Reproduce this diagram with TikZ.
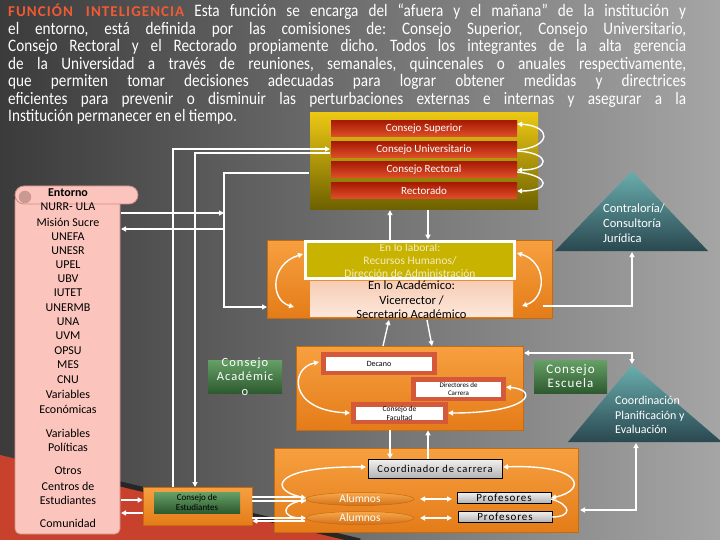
\documentclass[tikz,border=0pt]{standalone}
\usepackage{fontspec}
\setmainfont{Carlito}
\newfontfamily\spaced[LetterSpace=8]{Carlito}
\newfontfamily\parafont[FakeStretch=0.87]{Carlito}
\newfontfamily\titlefont[LetterSpace=7]{Carlito}
\usetikzlibrary{shapes.geometric,arrows.meta}
\definecolor{bgL}{HTML}{3B3B3B}
\definecolor{bgR}{HTML}{A5A5A5}
\definecolor{barTop}{HTML}{A81C04}
\definecolor{barBot}{HTML}{E0502A}
\definecolor{yTop}{HTML}{ECC814}
\definecolor{yBot}{HTML}{6C6000}
\definecolor{orTop}{HTML}{F7A040}
\definecolor{orBot}{HTML}{E47C18}
\definecolor{orDraw}{HTML}{C46A10}
\definecolor{olive}{HTML}{C8B300}
\definecolor{oliveTxt}{HTML}{F4ECC0}
\definecolor{peachTop}{HTML}{F6CDB6}
\definecolor{peachBot}{HTML}{FDE7DA}
\definecolor{decBorder}{HTML}{D4583A}
\definecolor{greenTop}{HTML}{66A066}
\definecolor{greenBot}{HTML}{2E5A30}
\definecolor{tealTop}{HTML}{6AAEAE}
\definecolor{tealBot}{HTML}{2A4850}
\definecolor{grayTop}{HTML}{F2F2F2}
\definecolor{grayBot}{HTML}{B4B4B4}
\definecolor{listFill}{HTML}{FBC5BD}
\definecolor{listDraw}{HTML}{D08C86}
\definecolor{curl}{HTML}{C99A93}
\definecolor{titleRed}{HTML}{F05A35}
\definecolor{decoRed}{HTML}{C8412C}
\definecolor{ellTop}{HTML}{F7A84A}
\definecolor{ellBot}{HTML}{D2701A}
\begin{document}
\begin{tikzpicture}[x=1pt,y=-1pt,
  >={Triangle[length=5pt,width=5pt]},
  wl/.style={draw=white,line width=1.4pt},
  redbar/.style={top color=barTop,bottom color=barBot,minimum width=186pt,minimum height=16pt,inner sep=0pt,text=white,font=\fontsize{11}{12}\selectfont},
  orbox/.style={top color=orTop,bottom color=orBot,draw=orDraw,line width=0.6pt,inner sep=0pt},
  greenbox/.style={top color=greenTop,bottom color=greenBot,inner sep=0pt},
  graybox/.style={top color=grayTop,bottom color=grayBot,draw=black,line width=0.6pt,inner sep=0pt},
  decbox/.style={fill=white,draw=decBorder,line width=4.5pt,inner sep=0pt,text=black},
  lst/.style={font=\fontsize{12}{13}\selectfont,text=black,inner sep=0pt},
  ell/.style={ellipse,top color=ellTop,bottom color=ellBot,draw=orDraw,line width=0.5pt,minimum width=108pt,minimum height=13pt,inner sep=0pt,text=white,font=\fontsize{11.5}{12}\selectfont},
  wtxt/.style={text=white,inner sep=0pt,align=left}
]
\useasboundingbox (0,0) rectangle (720,540);
\shade[left color=bgL,right color=bgR] (0,0) rectangle (720,540);
% decoration bottom-left
\fill[decoRed] (0,455) -- (357,541) -- (0,541) -- cycle;
\draw[black!85,line width=5pt] (112,482) -- (360,541);

% paragraph
\node[anchor=north west,inner sep=0pt,text width=678pt,text=white,align=justify,
      font=\parafont\fontsize{17.5}{17.5}\selectfont\frenchspacing] (para) at (8,4)
{{\titlefont\bfseries\fontsize{15}{17.5}\selectfont\color{titleRed}FUNCIÓN INTELIGENCIA} Esta función se encarga del “afuera y el mañana” de la institución y\linebreak
el entorno, está definida por las comisiones de: Consejo Superior, Consejo Universitario,\linebreak
Consejo Rectoral y el Rectorado propiamente dicho. Todos los integrantes de la alta gerencia\linebreak
de la Universidad a través de reuniones, semanales, quincenales o anuales respectivamente,\linebreak
que permiten tomar decisiones adecuadas para lograr obtener medidas y directrices\linebreak
eficientes para prevenir o disminuir las perturbaciones externas e internas y asegurar a la\linebreak
Institución permanecer en el tiempo.};

% yellow block with councils
\node[top color=yTop,bottom color=yBot,minimum width=228pt,minimum height=97pt,inner sep=0pt] (ybox) at (424,161.5) {};
\node[redbar] (csup) at (424,129) {Consejo Superior};
\node[redbar] (cuni) at (424,150) {Consejo Universitario};
\node[redbar] (crec) at (424,170) {Consejo Rectoral};
\node[redbar] (rect) at (424,191) {Rectorado};
\draw[wl,->] (cuni.east) .. controls (552,147) and (552,126) .. ([yshift=5pt]csup.east);
\draw[wl,->] ([yshift=-1pt]cuni.east) .. controls (552,153) and (550,170) .. (crec.east);
\draw[wl,->] ([yshift=-2pt]crec.east) .. controls (552,176) and (550,191) .. (rect.east);

% left list (scroll)
\node[fill=listFill,draw=listDraw,line width=0.8pt,rounded corners=5pt,minimum width=105pt,minimum height=339pt,inner sep=0pt] (entorno) at (67.5,364.5) {};
\node[fill=listFill,draw=listDraw,line width=0.8pt,rounded corners=9pt,minimum width=123pt,minimum height=18pt,inner sep=0pt] (roll) at (76.5,195) {};
\node[circle,fill=curl,draw=listDraw,minimum size=12pt,inner sep=0pt] (curlc) at (25,197) {};
\node[lst,font=\fontsize{12}{13}\bfseries\selectfont] (ent) at (68,193) {Entorno};
\foreach \t/\yy [count=\i] in {{NURR- ULA}/207,{Misión Sucre}/222,UNEFA/237,UNESR/251,UPEL/265,UBV/279,IUTET/293,UNERMB/308,UNA/322,UVM/336,OPSU/351,MES/365,CNU/380,Variables/394,Económicas/409,Variables/433,Políticas/447,Otros/471,{Centros de}/486,Estudiantes/500,Comunidad/523}
  \node[lst] (li\i) at (68,\yy) {\t};

% orange band: vicerrector
\node[orbox,minimum width=285pt,minimum height=78pt] (band) at (409.5,279) {};
\node[fill=olive,draw=white,line width=3.5pt,minimum width=209pt,minimum height=37pt,inner sep=0pt] (lab) at (410,260) {};
\begin{scope}
  \clip (309,244) rectangle (511,276);
  \node[text=oliveTxt,align=center,inner sep=0pt,font=\fontsize{11.5}{12.8}\selectfont] (labtxt) at (410,260.5) {En lo laboral:\\Recursos Humanos/\\Dirección de Administración};
\end{scope}
\node[top color=peachTop,bottom color=peachBot,minimum width=203pt,minimum height=35pt,inner sep=0pt] (acad) at (411.5,298.5) {};
\node[align=center,inner sep=0pt,font=\fontsize{12.5}{14.5}\selectfont,text=black] (acadtxt) at (411.5,300) {En lo Académico:\\Vicerrector /\\Secretario Académico};
\draw[wl,<->] (303,254) .. controls (270,264) and (270,300) .. (294,307);
\draw[wl,<->] (517,253) .. controls (547,262) and (547,298) .. (522,306);

% contraloria triangle
\shade[top color=tealTop,bottom color=tealBot] (632,171) -- (708,251) -- (555,251) -- cycle;
\node[wtxt,anchor=north west,font=\fontsize{12.5}{14.7}\selectfont] (contr) at (603,204) {Contraloría/\\Consultoría\\Jurídica};
\coordinate (contrB) at (632,252);

% decano block
\node[orbox,minimum width=227pt,minimum height=84pt] (decb) at (409.5,388) {};
\node[decbox,minimum width=111pt,minimum height=18.5pt,font=\fontsize{8}{9}\selectfont] (decano) at (379,363.5) {Decano};
\node[decbox,minimum width=90pt,minimum height=19.5pt,align=center,font=\fontsize{7}{8}\selectfont] (dirc) at (458.5,389) {Directores de\\Carrera};
\node[decbox,minimum width=92pt,minimum height=17.5pt,align=center,font=\fontsize{7.5}{9}\selectfont] (cfac) at (399.5,413) {Consejo de\\Facultad};
\draw[wl,<->] (319,362) .. controls (290,368) and (288,410) .. (350,413);
\draw[wl,<->] (506,387) .. controls (540,390) and (530,413) .. (448,413);

% green boxes
\node[greenbox,minimum width=74pt,minimum height=33pt] (cacad) at (245,376.5) {};
\node[align=center,inner sep=0pt,text=white,font=\spaced\fontsize{12.5}{14.5}\selectfont] (cacadtxt) at (245,376.5) {Consejo\\Académic\\o};
\node[greenbox,minimum width=73pt,minimum height=33pt,align=center,text=white,font=\spaced\fontsize{13}{14}\selectfont] (cesc) at (570.5,376.5) {Consejo\\Escuela};

% coordination triangle
\shade[top color=tealTop,bottom color=tealBot] (632,365) -- (722,442) -- (568,442) -- cycle;
\node[wtxt,anchor=north west,font=\fontsize{12}{14.5}\selectfont] (coordtri) at (615,396) {Coordinación\\Planificación y\\Evaluación};

% bottom block
\node[orbox,minimum width=304pt,minimum height=84pt] (bot) at (426,490) {};
\node[graybox,minimum width=134pt,minimum height=19pt,font=\spaced\fontsize{10.5}{12}\selectfont] (coordc) at (435,468.5) {Coordinador de carrera};
\node[ell] (alu1) at (360,499) {Alumnos};
\node[ell] (alu2) at (360,518) {Alumnos};
\node[graybox,minimum width=94pt,minimum height=11pt,font=\spaced\fontsize{11}{12}\selectfont] (prof1) at (504,497.5) {Profesores};
\node[graybox,minimum width=94pt,minimum height=11pt,font=\spaced\fontsize{11}{12}\selectfont] (prof2) at (505,516.5) {Profesores};
\draw[wl,<->] (420,499) -- (452,499);
\draw[wl,<->] (420,518) -- (452,518);
\draw[wl,<->] (306,498) .. controls (268,490) and (272,466) .. (366,467);
\draw[wl,->] (306,500) .. controls (280,503) and (280,518) .. (306,518);
\draw[wl,<->] (551,498) .. controls (588,490) and (582,464) .. (503,467);
\draw[wl] (551,499) .. controls (572,505) and (572,517) .. (552,517);

% consejo de estudiantes
\node[orbox,minimum width=109pt,minimum height=38pt] (ce) at (197.5,506) {};
\node[greenbox,minimum width=86pt,minimum height=21pt,align=center,font=\fontsize{9}{10.5}\selectfont,text=black] (cei) at (197,502.5) {Consejo de\\Estudiantes};

% ---------- connectors ----------
\coordinate (ceA) at (173,487);
\coordinate (cuA) at (330,149);
\coordinate (ceB) at (195,487);
\coordinate (cuB) at (330,153);
\draw[wl,->] (ceA) |- (cuA);
\draw[wl,->] (cuB) -| (ceB);
\coordinate (yC) at (309,173);
\coordinate (jC) at (224,307);
\coordinate (bandC) at (267,307);
\draw[wl,->] (yC) -| (jC) -- (bandC);
\coordinate (lE1) at (121,213);
\coordinate (jE1) at (224,213);
\coordinate (lE2) at (121,229);
\coordinate (jE2) at (224,229);
\draw[wl,->] (lE1) -- (jE1);
\draw[wl,->] (jE2) -- (lE2);
% band <-> yellow block
\draw[wl,->] (band.north -| 390,0) -- (ybox.south -| 390,0);
\draw[wl,->] (ybox.south -| 428,0) -- (band.north -| 428,0);
% band -> contraloria
\coordinate (bandR) at (543,306);
\draw[wl,->] (bandR) -| (contrB);
% band <-> decano block
\draw[wl,->] (383,346) -- (389,320);
\draw[wl,->] (427,320) -- (432,346);
% decano block <-> right
\coordinate (decR) at (524,353);
\coordinate (triTop) at (632,364);
\draw[wl,<->] (decR) -| (triTop);
% decano block <-> coordinador
\draw[wl,->] (decb.south -| 390,0) -- (coordc.north -| 390,0);
\draw[wl,->] (coordc.north -| 428,0) -- (decb.south -| 428,0);
% triangle <-> bottom block
\coordinate (triB) at (636,443);
\coordinate (botR) at (580,510);
\draw[wl,<->] (triB) |- (botR);
% list <-> consejo de estudiantes
\draw[wl,->] (121,500) -- (ce.west |- 0,500);
\draw[wl,->] (ce.west |- 0,513) -- (121,513);
% consejo de estudiantes <-> alumnos
\draw[wl] (ce.east |- 0,497) -- (303,497);
\draw[wl,->] (ce.east |- 0,501) -- (306,501);
\draw[wl] (305,518) -- (ce.east |- 0,518);
\draw[wl,->] (305,521) -- (ce.east |- 0,521);
\end{tikzpicture}
\end{document}
